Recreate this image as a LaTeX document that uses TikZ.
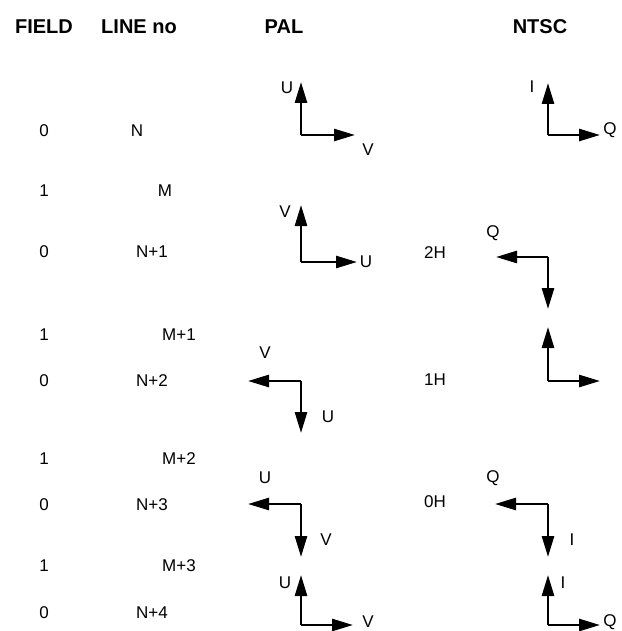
\documentclass[tikz,border=0pt]{standalone}
\usepackage{fontspec}
\setmainfont{Liberation Sans}
\usetikzlibrary{arrows.meta}

\begin{document}
\begin{tikzpicture}[x=1pt, y=-1pt, font=\fontsize{17}{20}\selectfont,
  hd/.style={font=\fontsize{20}{24}\selectfont\bfseries},
  lbl/.style={inner sep=0pt},
  vec/.style={-{Triangle[length=21pt, width=12pt]}, line width=2.6pt, line join=miter}
]
  \useasboundingbox (0,0) rectangle (621,631);

  % headers
  \node[hd] (hfield) at (44,27) {FIELD};
  \node[hd] (hline) at (139,27) {LINE no};
  \node[hd] (hpal) at (284,27) {PAL};
  \node[hd] (hntsc) at (540,27) {NTSC};

  % field and line numbers
  \foreach \n/\y/\f/\lx/\l in {a/131/0/137/N, b/191/1/165/M, c/252/0/152/N+1,
      d/335/1/179/M+1, e/381/0/152/N+2, f/459/1/179/M+2, g/505/0/152/N+3,
      h/566/1/179/M+3, i/613/0/152/N+4} {
    \node[lbl] (fld\n) at (44,\y) {\f};
    \node[lbl] (ln\n) at (\lx,\y) {\l};
  }

  % NTSC line offsets
  \node[lbl] (off2) at (435,253) {2H};
  \node[lbl] (off1) at (435,380) {1H};
  \node[lbl] (off0) at (435,502) {0H};

  % vector pairs: corner, horizontal tip, vertical tip
  \foreach \n/\cx/\cy/\hx/\vy in {pa/301/135/355/82, pb/301/262/357/205,
      pc/301/381/248/433, pd/301/504/248/557, pe/301/625/353/575,
      na/548/135/600/83, nb/548/257/496/309, nc/548/381/600/327,
      nd/548/504/495/557, ne/548/625/600/575} {
    \coordinate (\n) at (\cx,\cy);
    \coordinate (\n h) at (\hx,\cy);
    \coordinate (\n v) at (\cx,\vy);
    \draw[vec] (\n) -- (\n h);
    \draw[vec] (\n) -- (\n v);
  }

  % PAL labels
  \node[lbl] (pau) at (287,88) {U};
  \node[lbl] (pav) at (368,150) {V};
  \node[lbl] (pbv) at (285,212) {V};
  \node[lbl] (pbu) at (366,262) {U};
  \node[lbl] (pcv) at (265,353) {V};
  \node[lbl] (pcu) at (328,417) {U};
  \node[lbl] (pdu) at (265,478) {U};
  \node[lbl] (pdv) at (326,540) {V};
  \node[lbl] (peu) at (285,583) {U};
  \node[lbl] (pev) at (368,622) {V};

  % NTSC labels
  \node[lbl] (nai) at (532,87) {I};
  \node[lbl] (naq) at (610,130) {Q};
  \node[lbl] (nbq) at (493,233) {Q};
  \node[lbl] (ndq) at (493,478) {Q};
  \node[lbl] (ndi) at (572,540) {I};
  \node[lbl] (nei) at (563,583) {I};
  \node[lbl] (neq) at (610,622) {Q};
\end{tikzpicture}
\end{document}
